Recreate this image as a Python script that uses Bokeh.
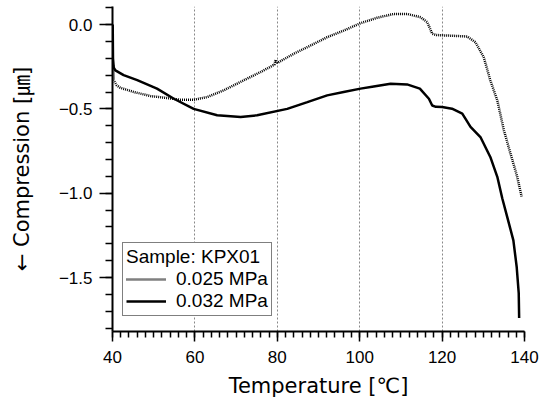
from bokeh.plotting import figure
from bokeh.models import (Range1d, SingleIntervalTicker, CustomJSTickFormatter, Legend, LegendItem)
from bokeh.embed import file_html
from bokeh.resources import INLINE

# ---- data ----
x_025 = [40.2, 40.3, 41.0, 41.9, 45.2, 49.2, 53.3, 56.5, 59.7, 63.0, 67.0, 71.9, 75.9,
         79.3, 79.6, 80.0, 84.0, 88.1, 92.1, 96.1, 100.2, 104.2, 108.3, 111.5, 114.8,
         116.4, 117.6, 118.6, 122.0, 126.1, 128.1, 130.1, 131.7, 133.4, 135.0, 136.6,
         138.2, 139.3]
y_025 = [-0.243, -0.33, -0.36, -0.375, -0.40, -0.424, -0.436, -0.446, -0.446, -0.43,
         -0.39, -0.33, -0.282, -0.238, -0.209, -0.228, -0.173, -0.124, -0.075, -0.036,
         0.008, 0.04, 0.063, 0.063, 0.043, 0.014, -0.055, -0.062, -0.066, -0.071,
         -0.105, -0.193, -0.331, -0.45, -0.627, -0.765, -0.90, -1.02]

x_032 = [40.05, 40.12, 40.3, 40.7, 42.7, 46.0, 50.8, 54.9, 59.7, 65.4, 71.1, 75.1, 82.4,
         87.3, 92.1, 96.1, 100.2, 103.4, 107.5, 111.5, 114.6, 116.8, 117.6, 118.5, 120.0,
         122.4, 124.9, 126.9, 129.3, 131.7, 133.4, 134.6, 135.8, 137.3, 138.1, 138.6,
         138.7]
y_032 = [0.0, -0.2, -0.255, -0.272, -0.30, -0.33, -0.38, -0.44, -0.50, -0.538, -0.548,
         -0.538, -0.50, -0.46, -0.42, -0.40, -0.38, -0.367, -0.351, -0.355, -0.38, -0.44,
         -0.48, -0.488, -0.489, -0.499, -0.528, -0.607, -0.667, -0.785, -0.903, -1.03,
         -1.14, -1.28, -1.436, -1.593, -1.74]

legend_title = "Sample: KPX01"
series_labels = ["0.025 MPa", "0.032 MPa"]
x_label = "Temperature [℃]"
y_label = "← Compression [㎛]"

FONT = "'Liberation Sans', 'Noto Sans CJK KR', sans-serif"
LFONT = "'DejaVu Sans', 'Noto Sans CJK KR', sans-serif"

p = figure(width=540, height=400, output_backend="svg", toolbar_location=None,
           x_range=Range1d(40, 140), y_range=Range1d(-1.820, 0.107),
           min_border_left=112, min_border_right=16, min_border_top=6,
           min_border_bottom=69)
p.outline_line_color = None
p.background_fill_color = "white"
p.border_fill_color = "white"

r1 = p.line(x_025, y_025, line_color="black", line_width=2.5, line_dash="1 1")
r2 = p.line(x_032, y_032, line_color="black", line_width=2.5)

# axes
p.xaxis.ticker = SingleIntervalTicker(interval=20, num_minor_ticks=10)
p.yaxis.ticker = SingleIntervalTicker(interval=0.5, num_minor_ticks=5)
p.yaxis.formatter = CustomJSTickFormatter(code="""
    const s = Math.abs(tick) < 1e-9 ? '0.0' : tick.toFixed(1);
    return s.replace('-', '\u2212');
""")
for ax in (p.xaxis[0], p.yaxis[0]):
    ax.axis_line_width = 2
    ax.axis_line_color = "black"
    ax.major_tick_line_width = 1.5
    ax.minor_tick_line_width = 1.5
    ax.major_tick_line_color = "black"
    ax.minor_tick_line_color = "black"
    ax.major_tick_in = 0
    ax.minor_tick_in = 0
    ax.major_label_text_font = FONT
    ax.major_label_text_font_size = "17px"
    ax.major_label_text_color = "black"
    ax.axis_label_text_font = LFONT
    ax.axis_label_text_font_size = "21px"
    ax.axis_label_text_font_style = "normal"
    ax.axis_label_text_color = "black"

p.xaxis.major_tick_out = 10
p.xaxis.minor_tick_out = 6
p.xaxis.major_label_standoff = 9
p.xaxis.axis_label = x_label
p.xaxis.axis_label_standoff = 8

p.yaxis.major_tick_out = 13
p.yaxis.minor_tick_out = 7
p.yaxis.major_label_standoff = 7
p.yaxis.axis_label = y_label
p.yaxis.axis_label_standoff = 22

# grid
p.ygrid.grid_line_color = None
p.xgrid.grid_line_color = "#888888"
p.xgrid.grid_line_width = 1
p.xgrid.grid_line_dash = "2 2"

legend = Legend(items=[LegendItem(label=series_labels[0], renderers=[r1]),
                       LegendItem(label=series_labels[1], renderers=[r2])],
                title=legend_title, location=(10, 15))
legend.title_text_font = FONT
legend.title_text_font_size = "19px"
legend.title_text_font_style = "normal"
legend.title_text_color = "black"
legend.title_text_line_height = 1.0
legend.title_standoff = 0
legend.label_text_font = FONT
legend.label_text_font_size = "19px"
legend.label_text_color = "black"
legend.label_text_line_height = 1.0
legend.border_line_color = "black"
legend.border_line_width = 1.5
legend.background_fill_color = "white"
legend.background_fill_alpha = 1
legend.padding = 3
legend.margin = 0
legend.spacing = 0
legend.glyph_width = 40
legend.glyph_height = 18
legend.label_height = 18
legend.label_standoff = 10
p.add_layout(legend)

open("out.html", "w").write(file_html(p, INLINE))
